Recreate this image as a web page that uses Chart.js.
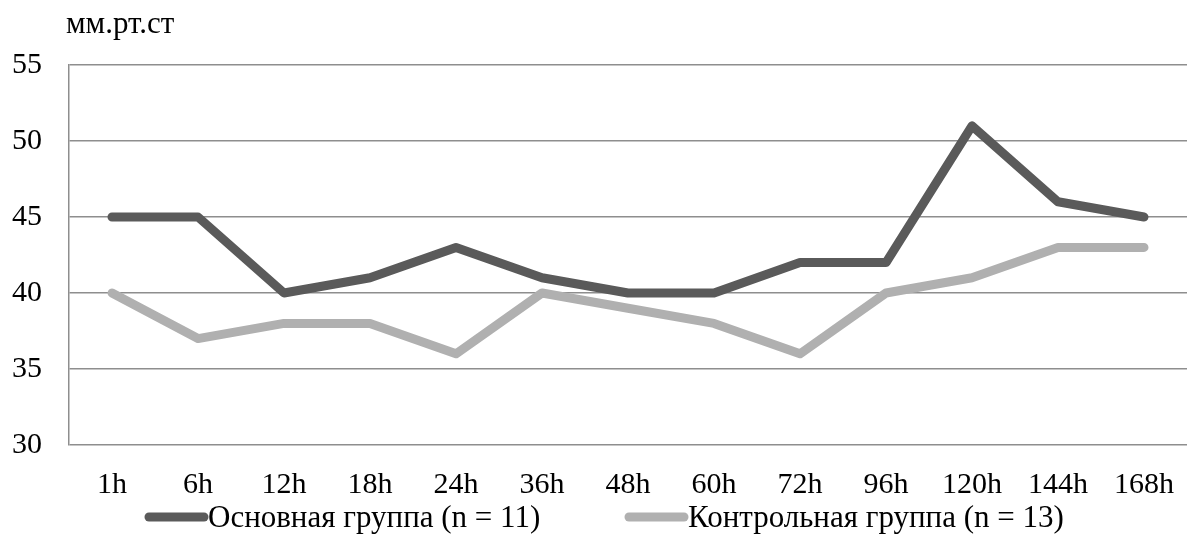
<!DOCTYPE html>
<html>
<head>
<meta charset="utf-8">
<script src="https://cdn.jsdelivr.net/npm/chart.js@4/dist/chart.umd.min.js"></script>
<style>
  html, body { margin: 0; padding: 0; background: #fff; }
  #wrap { width: 1187px; height: 534px; position: relative; }
</style>
</head>
<body>
<div id="wrap"><canvas id="pressure_chart" width="1187" height="534"></canvas></div>
<script>
// D A T A
const hours = ['1h', '6h', '12h', '18h', '24h', '36h', '48h', '60h', '72h', '96h', '120h', '144h', '168h'];
const main_group = [45, 45, 40, 41, 43, 41, 40, 40, 42, 42, 51, 46, 45];
const control_group = [40, 37, 38, 38, 36, 40, 39, 38, 36, 40, 41, 43, 43];
const series_labels = ['Основная группа (n = 11)', 'Контрольная группа (n = 13)'];
const unit_label = 'мм.рт.ст';

const font_family = "'Liberation Serif', 'Times New Roman', serif";
const dark_gray = '#5a5a5a';
const light_gray = '#b0b0b0';
const grid_gray = '#8e8e8e';

// unit label on top + legend at the bottom (drawn by hand)
const extras = {
    id: 'extras',
    afterDraw(chart) {
        const ctx = chart.ctx;
        ctx.save();
        ctx.fillStyle = '#000';
        ctx.font = '31px ' + font_family;
        ctx.textBaseline = 'alphabetic';
        ctx.textAlign = 'left';
        ctx.fillText(unit_label, 66, 33);

        const items = [{ x: 145 }, { x: 625 }];
        chart.data.datasets.forEach((ds, i) => {
            const x = items[i].x;
            const y = 517;
            ctx.strokeStyle = ds.borderColor;
            ctx.lineWidth = 9;
            ctx.lineCap = 'round';
            ctx.beginPath();
            ctx.moveTo(x + 4, y);
            ctx.lineTo(x + 59, y);
            ctx.stroke();
            ctx.fillStyle = '#000';
            ctx.font = '31px ' + font_family;
            ctx.fillText(ds.label, x + 63, 527);
        });
        ctx.restore();
    }
};

const pressure_chart = document.getElementById('pressure_chart');
new Chart(pressure_chart, {
    type: 'line',
    data: {
        labels: hours,
        datasets: [{
            label: series_labels[0],
            data: main_group,
            borderColor: dark_gray,
            backgroundColor: dark_gray,
            borderWidth: 9,
            borderCapStyle: 'round',
            borderJoinStyle: 'round',
            pointRadius: 0,
            tension: 0
        }, {
            label: series_labels[1],
            data: control_group,
            borderColor: light_gray,
            backgroundColor: light_gray,
            borderWidth: 9,
            borderCapStyle: 'round',
            borderJoinStyle: 'round',
            pointRadius: 0,
            tension: 0
        }]
    },
    options: {
        responsive: false,
        animation: false,
        devicePixelRatio: 1,
        layout: {
            padding: { top: 65, right: -8, left: 0, bottom: 0 }
        },
        scales: {
            x: {
                offset: true,
                grid: { display: false, drawTicks: false },
                border: { display: false },
                ticks: {
                    color: '#000',
                    padding: 22,
                    maxRotation: 0,
                    autoSkip: false,
                    font: { family: font_family, size: 30 }
                },
                afterFit(scale) {
                    scale.height = 89;
                    scale.paddingLeft = 0;
                    scale.paddingRight = 0;
                }
            },
            y: {
                min: 30,
                max: 55,
                ticks: {
                    stepSize: 5,
                    color: '#000',
                    padding: 27,
                    font: { family: font_family, size: 30 }
                },
                grid: {
                    color: grid_gray,
                    lineWidth: 1.5,
                    drawTicks: false
                },
                border: { display: true, color: grid_gray, width: 1.5 },
                afterFit(scale) { scale.width = 69; }
            }
        },
        plugins: {
            legend: { display: false },
            tooltip: { enabled: false }
        }
    },
    plugins: [extras]
});
</script>
</body>
</html>
